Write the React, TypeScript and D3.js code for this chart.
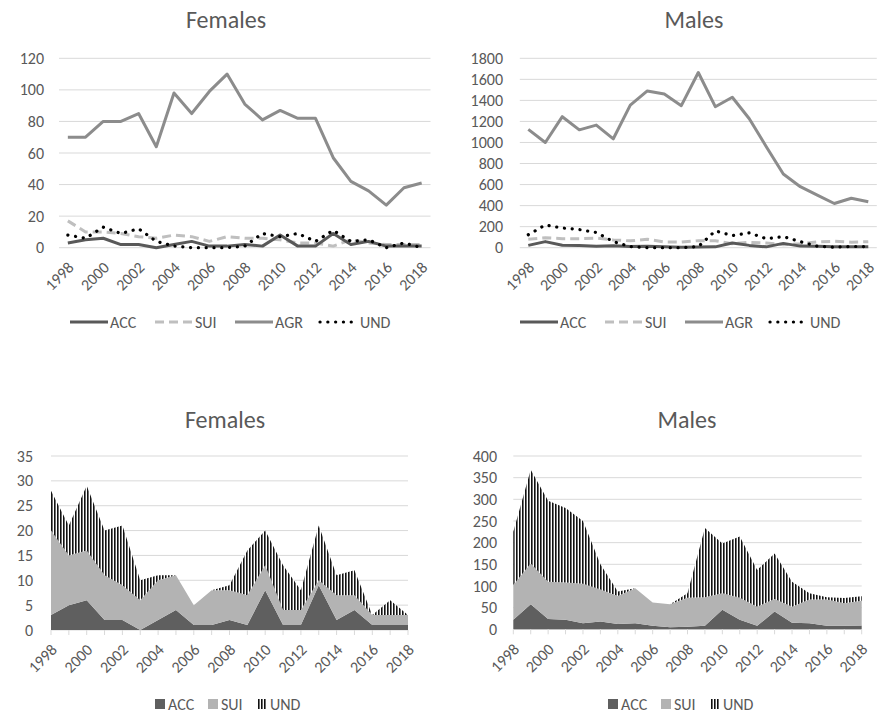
import * as d3 from 'd3'

const years = ['1998', '1999', '2000', '2001', '2002', '2003', '2004', '2005', '2006', '2007', '2008', '2009', '2010', '2011', '2012', '2013', '2014', '2015', '2016', '2017', '2018']

const femaleACC = [3, 5, 6, 2, 2, 0, 2, 4, 1, 1, 2, 1, 8, 1, 1, 9, 2, 4, 1, 1, 1]
const femaleSUI = [17, 10, 10, 9, 7, 6, 8, 7, 4, 7, 6, 6, 5, 3, 3, 1, 5, 3, 2, 2, 2]
const femaleAGR = [70, 70, 80, 80, 85, 64, 98, 85, 99, 110, 91, 81, 87, 82, 82, 57, 42, 36, 27, 38, 41]
const femaleUND = [8, 6, 13, 9, 12, 4, 1, 0, 0, 0, 1, 9, 7, 9, 4, 11, 4, 5, 0, 3, 0]

const maleACC = [22, 58, 24, 22, 14, 18, 12, 14, 8, 5, 6, 8, 45, 22, 8, 41, 15, 14, 8, 8, 9]
const maleSUI = [80, 94, 86, 86, 91, 74, 65, 81, 54, 53, 67, 66, 38, 51, 44, 29, 37, 55, 61, 52, 57]
const maleAGR = [1125, 1000, 1245, 1120, 1165, 1035, 1355, 1490, 1460, 1350, 1665, 1340, 1430, 1225, 960, 700, 580, 500, 420, 470, 437]
const maleUND = [123, 216, 187, 172, 145, 58, 10, 0, 0, 0, 10, 160, 115, 141, 85, 105, 58, 14, 5, 12, 10]

const FONT = 'Calibri, Carlito, Lato, sans-serif'
const TEXT = '#595959'
const GRID = '#d9d9d9'

type LineStyle = { name: string; values: number[]; color: string; width: number; dash?: string; cap?: 'round' | 'butt' }

type Box = { left: number; right: number; top: number; bottom: number }

function lineStyles(acc: number[], sui: number[], agr: number[], und: number[]): LineStyle[] {
  return [
    { name: 'ACC', values: acc, color: '#595959', width: 3 },
    { name: 'SUI', values: sui, color: '#bfbfbf', width: 3, dash: '9,5' },
    { name: 'AGR', values: agr, color: '#8c8c8c', width: 3 },
    { name: 'UND', values: und, color: '#000000', width: 3.2, dash: '0.1,7.7', cap: 'round' },
  ]
}

function YAxis({ y, ticks, left, right, labelX }: { y: d3.ScaleLinear<number, number>; ticks: number[]; left: number; right: number; labelX: number }) {
  return (
    <g>
      {ticks.map((t) => (
        <g key={t}>
          <line x1={left} x2={right} y1={y(t)} y2={y(t)} stroke={GRID} strokeWidth={1} />
          <text x={labelX} y={y(t)} dy="0.35em" textAnchor="end" fontSize={16} fill={TEXT}>
            {t}
          </text>
        </g>
      ))}
    </g>
  )
}

function XLabels({ xs, base }: { xs: number[]; base: number }) {
  return (
    <g>
      {years.map((yr, i) =>
        i % 2 === 0 ? (
          <text
            key={yr}
            transform={`translate(${xs[i] + 3},${base + 17}) rotate(-45)`}
            textAnchor="end"
            dominantBaseline="central"
            fontSize={16}
            fill={TEXT}
          >
            {yr}
          </text>
        ) : null,
      )}
    </g>
  )
}

function LinePanel({ title, titleX, box, yMax, yStep, labelX, legendX, series }: {
  title: string; titleX: number; box: Box; yMax: number; yStep: number; labelX: number; legendX: number; series: LineStyle[]
}) {
  const x = d3.scaleBand<string>().domain(years).range([box.left, box.right])
  const cx = years.map((d) => (x(d) ?? 0) + x.bandwidth() / 2)
  const y = d3.scaleLinear().domain([0, yMax]).range([box.bottom, box.top])
  const ticks = d3.range(0, yMax + yStep / 2, yStep)
  const line = d3.line<number>().x((_, i) => cx[i]).y((v) => y(v))
  const offsets = [0, 85, 165, 250]
  return (
    <g>
      <text x={titleX} y={28} textAnchor="middle" fontSize={24} fill={TEXT}>{title}</text>
      <YAxis y={y} ticks={ticks} left={box.left} right={box.right} labelX={labelX} />
      {/* AGR drawn first so the small series sit on top */}
      {[series[2], series[1], series[0], series[3]].map((s) => (
        <path key={s.name} d={line(s.values) ?? ''} fill="none" stroke={s.color} strokeWidth={s.width}
          strokeDasharray={s.dash} strokeLinecap={s.cap ?? 'butt'} strokeLinejoin="round" />
      ))}
      <XLabels xs={cx} base={box.bottom} />
      {series.map((s, i) => {
        const lx = legendX + offsets[i]
        return (
          <g key={s.name}>
            <line x1={lx} x2={lx + 38} y1={322} y2={322} stroke={s.color} strokeWidth={s.width}
              strokeDasharray={s.dash} strokeLinecap={s.cap ?? 'butt'} />
            <text x={lx + 40} y={322} dy="0.35em" fontSize={16} fill={TEXT}>{s.name}</text>
          </g>
        )
      })}
    </g>
  )
}

type Row = { year: string; ACC: number; SUI: number; UND: number }

function StackPanel({ title, titleX, box, yMax, yStep, labelX, legendX, acc, sui, und, patternId }: {
  title: string; titleX: number; box: Box; yMax: number; yStep: number; labelX: number; legendX: number
  acc: number[]; sui: number[]; und: number[]; patternId: string
}) {
  const x = d3.scalePoint<string>().domain(years).range([box.left, box.right])
  const y = d3.scaleLinear().domain([0, yMax]).range([box.bottom, box.top])
  const ticks = d3.range(0, yMax + yStep / 2, yStep)
  const rows: Row[] = years.map((yr, i) => ({ year: yr, ACC: acc[i], SUI: sui[i], UND: und[i] }))
  const keys = ['ACC', 'SUI', 'UND'] as const
  const stacked = d3.stack<Row>().keys(keys as unknown as string[])(rows)
  const area = d3.area<d3.SeriesPoint<Row>>()
    .x((d) => x(d.data.year) ?? 0)
    .y0((d) => y(d[0]))
    .y1((d) => y(d[1]))
  const fills = ['#5f5f5f', '#b3b3b3', `url(#${patternId})`]
  const cx = years.map((d) => x(d) ?? 0)
  const offsets = [0, 53, 102]
  return (
    <g>
      <defs>
        <pattern id={patternId} width={3} height={4} patternUnits="userSpaceOnUse">
          <rect width={3} height={4} fill="#ffffff" />
          <rect width={1.6} height={4} fill="#111111" />
        </pattern>
      </defs>
      <text x={titleX} y={428} textAnchor="middle" fontSize={24} fill={TEXT}>{title}</text>
      <YAxis y={y} ticks={ticks} left={box.left} right={box.right} labelX={labelX} />
      {stacked.map((s, i) => (
        <path key={s.key} d={area(s) ?? ''} fill={fills[i]} />
      ))}
      {cx.map((v, i) => (
        <line key={i} x1={v} x2={v} y1={box.bottom} y2={box.bottom + 5} stroke={GRID} />
      ))}
      <XLabels xs={cx} base={box.bottom} />
      {keys.map((k, i) => {
        const lx = legendX + offsets[i]
        return (
          <g key={k}>
            <rect x={lx} y={699} width={10} height={10} fill={fills[i]} />
            <text x={lx + 13} y={704} dy="0.35em" fontSize={16} fill={TEXT}>{k}</text>
          </g>
        )
      })}
    </g>
  )
}

export default function App() {
  return (
    <svg width={877} height={721} style={{ position: 'absolute', left: 0, top: 0, background: '#fff' }} fontFamily={FONT}>
      <rect width={877} height={721} fill="#ffffff" />
      <LinePanel title="Females" titleX={226} box={{ left: 59, right: 430.5, top: 58.3, bottom: 247.7 }}
        yMax={120} yStep={20} labelX={44} legendX={70}
        series={lineStyles(femaleACC, femaleSUI, femaleAGR, femaleUND)} />
      <LinePanel title="Males" titleX={694} box={{ left: 519.8, right: 876.8, top: 58.3, bottom: 247.7 }}
        yMax={1800} yStep={200} labelX={503} legendX={520}
        series={lineStyles(maleACC, maleSUI, maleAGR, maleUND)} />
      <StackPanel title="Females" titleX={225} box={{ left: 51, right: 408, top: 456, bottom: 630 }}
        yMax={35} yStep={5} labelX={33} legendX={155}
        acc={femaleACC} sui={femaleSUI} und={femaleUND} patternId="hatchF" />
      <StackPanel title="Males" titleX={687} box={{ left: 513.3, right: 861.7, top: 456, bottom: 629.3 }}
        yMax={400} yStep={50} labelX={497} legendX={608}
        acc={maleACC} sui={maleSUI} und={maleUND} patternId="hatchM" />
    </svg>
  )
}
